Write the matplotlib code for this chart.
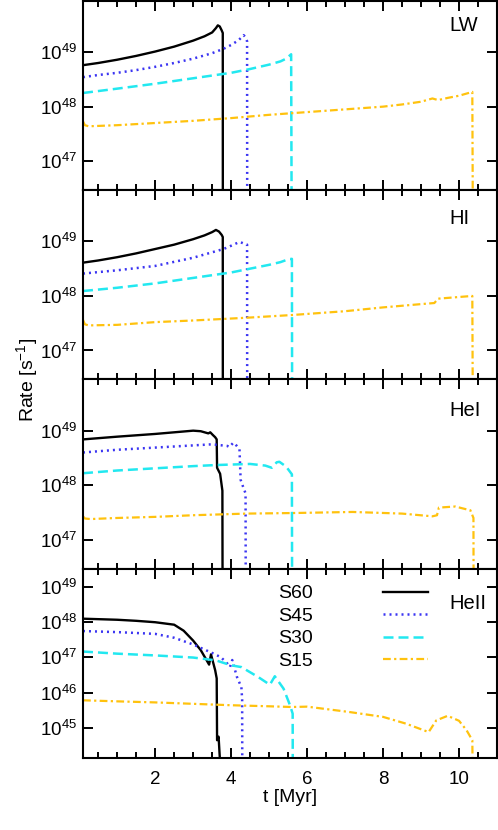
import numpy as np
import matplotlib
matplotlib.use("Agg")
import matplotlib.pyplot as plt
from matplotlib.ticker import FixedLocator, NullLocator, MultipleLocator

plt.rcParams['font.family'] = ['Liberation Sans', 'DejaVu Sans']
plt.rcParams['mathtext.fontset'] = 'custom'
plt.rcParams['mathtext.rm'] = 'Liberation Sans'
plt.rcParams['mathtext.it'] = 'Liberation Sans:italic'

# log10 of rate [s^-1], per band and per model
names = ["S60", "S45", "S30", "S15"]
bands = ["LW", "HI", "HeI", "HeII"]

# --- LW ---
lw_t60 = [0.1, 0.5, 1.0, 1.5, 2.0, 2.5, 3.0, 3.3, 3.5, 3.6, 3.65, 3.7, 3.75, 3.78, 3.785]
lw_y60 = [48.76, 48.80, 48.86, 48.93, 49.01, 49.10, 49.21, 49.29, 49.36, 49.44, 49.49, 49.47, 49.40, 49.35, 40]
lw_t45 = [0.1, 0.5, 1.0, 1.5, 2.0, 2.5, 3.0, 3.5, 3.8, 4.0, 4.2, 4.33, 4.38, 4.42, 4.43]
lw_y45 = [48.54, 48.58, 48.62, 48.67, 48.73, 48.80, 48.88, 48.98, 49.06, 49.13, 49.22, 49.31, 49.27, 49.20, 40]
lw_t30 = [0.1, 1.0, 2.0, 3.0, 4.0, 4.5, 5.0, 5.3, 5.45, 5.58, 5.62]
lw_y30 = [48.25, 48.33, 48.42, 48.52, 48.62, 48.69, 48.77, 48.83, 48.88, 48.96, 40]
lw_t15 = [0.1, 0.15, 0.25, 1.0, 2.0, 3.0, 4.0, 5.0, 6.0, 7.0, 8.0, 8.5, 9.0, 9.3, 9.45, 9.7, 10.0, 10.35, 10.4]
lw_y15 = [47.73, 47.66, 47.64, 47.66, 47.70, 47.74, 47.79, 47.85, 47.90, 47.95, 48.00, 48.04, 48.09, 48.15, 48.12, 48.16, 48.20, 48.27, 40]

# --- HI ---
hi_t60 = [0.1, 0.5, 1.0, 1.5, 2.0, 2.5, 3.0, 3.3, 3.5, 3.6, 3.68, 3.75, 3.78, 3.785]
hi_y60 = [48.61, 48.65, 48.71, 48.78, 48.86, 48.94, 49.04, 49.11, 49.17, 49.21, 49.18, 49.12, 49.08, 40]
hi_t45 = [0.1, 1.0, 2.0, 3.0, 3.5, 3.8, 4.0, 4.22, 4.3, 4.37, 4.42, 4.43]
hi_y45 = [48.41, 48.47, 48.55, 48.70, 48.80, 48.86, 48.92, 48.99, 48.97, 48.95, 48.94, 40]
hi_t30 = [0.1, 1.0, 2.0, 3.0, 4.0, 4.5, 5.0, 5.3, 5.5, 5.6, 5.62]
hi_y30 = [48.09, 48.15, 48.23, 48.33, 48.43, 48.50, 48.57, 48.62, 48.67, 48.68, 40]
hi_t15 = [0.1, 0.15, 0.25, 1.0, 2.0, 3.0, 4.4, 5.6, 7.0, 8.0, 9.0, 9.35, 9.45, 10.35, 10.4]
hi_y15 = [47.56, 47.48, 47.46, 47.47, 47.52, 47.55, 47.60, 47.65, 47.72, 47.79, 47.85, 47.87, 47.95, 48.00, 40]

# --- HeI ---
hei_t60 = [0.1, 1.0, 2.0, 2.5, 3.0, 3.2, 3.4, 3.45, 3.52, 3.58, 3.62, 3.63, 3.71, 3.77, 3.79]
hei_y60 = [48.84, 48.89, 48.94, 48.97, 49.00, 48.99, 48.95, 48.97, 48.92, 48.88, 48.84, 48.32, 48.21, 47.90, 40]
hei_t45 = [0.1, 1.0, 2.0, 3.0, 3.5, 3.9, 3.95, 4.06, 4.15, 4.22, 4.25, 4.3, 4.38, 4.4]
hei_y45 = [48.60, 48.65, 48.69, 48.73, 48.75, 48.72, 48.70, 48.78, 48.72, 48.66, 48.10, 48.00, 47.85, 40]
hei_t30 = [0.1, 1.0, 2.0, 3.0, 3.6, 4.5, 4.9, 5.07, 5.2, 5.27, 5.45, 5.6, 5.62]
hei_y30 = [48.22, 48.27, 48.31, 48.35, 48.37, 48.39, 48.36, 48.32, 48.42, 48.43, 48.34, 48.20, 40]
hei_t15 = [0.1, 0.15, 0.3, 1.0, 2.0, 3.0, 4.4, 5.6, 7.2, 8.5, 9.3, 9.42, 9.47, 9.9, 10.3, 10.38, 10.4]
hei_y15 = [47.43, 47.39, 47.38, 47.40, 47.42, 47.45, 47.48, 47.49, 47.51, 47.48, 47.43, 47.45, 47.59, 47.61, 47.54, 47.40, 40]

# --- HeII ---
heii_t60 = [0.1, 1.0, 1.5, 2.0, 2.5, 2.75, 3.0, 3.2, 3.33, 3.42, 3.47, 3.58, 3.62, 3.63, 3.67, 3.71, 3.73]
heii_y60 = [48.09, 48.06, 48.03, 47.99, 47.92, 47.75, 47.47, 47.20, 46.96, 46.79, 47.08, 46.63, 46.40, 44.65, 44.75, 44.00, 40]
heii_t45 = [0.1, 1.0, 2.0, 2.5, 3.0, 3.5, 3.73, 3.9, 3.97, 4.03, 4.15, 4.27, 4.29, 4.30]
heii_y45 = [47.74, 47.71, 47.66, 47.55, 47.36, 47.12, 47.00, 46.82, 46.72, 46.92, 46.45, 46.15, 45.80, 40]
heii_t30 = [0.1, 1.0, 2.0, 3.0, 3.6, 4.0, 4.27, 4.71, 5.02, 5.15, 5.38, 5.55, 5.62, 5.63]
heii_y30 = [47.16, 47.10, 47.05, 46.99, 46.91, 46.77, 46.72, 46.44, 46.22, 46.46, 46.11, 45.64, 45.40, 40]
heii_t15 = [0.1, 1.0, 2.0, 3.0, 4.0, 5.0, 5.6, 6.0, 7.1, 8.0, 8.6, 9.2, 9.4, 9.7, 10.0, 10.2, 10.35, 10.4]
heii_y15 = [45.78, 45.75, 45.72, 45.68, 45.64, 45.61, 45.59, 45.60, 45.45, 45.31, 45.12, 44.88, 45.21, 45.34, 45.20, 44.93, 44.65, 40]

panels = [
    [(lw_t60, lw_y60), (lw_t45, lw_y45), (lw_t30, lw_y30), (lw_t15, lw_y15)],
    [(hi_t60, hi_y60), (hi_t45, hi_y45), (hi_t30, hi_y30), (hi_t15, hi_y15)],
    [(hei_t60, hei_y60), (hei_t45, hei_y45), (hei_t30, hei_y30), (hei_t15, hei_y15)],
    [(heii_t60, heii_y60), (heii_t45, heii_y45), (heii_t30, heii_y30), (heii_t15, heii_y15)],
]
ytick_exp = [[47, 48, 49], [47, 48, 49], [47, 48, 49], [45, 46, 47, 48, 49]]
ylims = [(2.95e46, 8.7e49)] * 3 + [(1.4e44, 3.2e49)]

colors = ["black", "#3b35f2", "#22e8f0", "#ffc20e"]
styles = ["-", (0, (0.8, 1.6)), (0, (4, 2)), (0, (3.5, 1.5, 1, 1.5))]
widths = [1.7, 1.8, 1.8, 1.6]
label_pos = [(0.884, 0.868), (0.884, 0.850), (0.884, 0.835), (0.884, 0.814)]

fig, axes = plt.subplots(4, 1, sharex=True, figsize=(4.98, 8.3), dpi=100)
fig.subplots_adjust(left=83/498, right=497/498, top=0.999, bottom=1-758/830, hspace=0)

for i, ax in enumerate(axes):
    for j in range(4):
        t, y = panels[i][j]
        ax.plot(t, 10**np.array(y), color=colors[j], linestyle=styles[j],
                linewidth=widths[j], label=names[j])
    ax.set_yscale('log')
    ax.set_ylim(*ylims[i])
    ax.set_xlim(0.1, 11)
    ax.yaxis.set_major_locator(FixedLocator([10.0**e for e in ytick_exp[i]]))
    ax.yaxis.set_minor_locator(NullLocator())
    ax.xaxis.set_major_locator(MultipleLocator(2))
    ax.xaxis.set_minor_locator(MultipleLocator(0.5))
    ax.tick_params(which='both', direction='in', top=True, right=True, width=1.4)
    ax.tick_params(which='major', length=7, labelsize=13.5, pad=4)
    ax.tick_params(which='minor', length=4)
    ax.tick_params(axis='x', pad=9)
    for s in ax.spines.values():
        s.set_linewidth(1.5)
    ax.text(label_pos[i][0], label_pos[i][1], bands[i], transform=ax.transAxes,
            fontsize=14.5, ha='left', va='center')

axes[3].set_xlabel('t [Myr]', fontsize=14, labelpad=1)
fig.text(27/498, 1-380/830, 'Rate [s$^{-1}$]', rotation=90, ha='center', va='center', fontsize=14)

axes[3].legend(markerfirst=False, frameon=False, loc='upper left',
               bbox_to_anchor=(0.472, 0.915), fontsize=14, handlelength=2.3,
               handletextpad=3.6, labelspacing=0.25, borderpad=0, borderaxespad=0)

fig.savefig("out.png", dpi=100)
